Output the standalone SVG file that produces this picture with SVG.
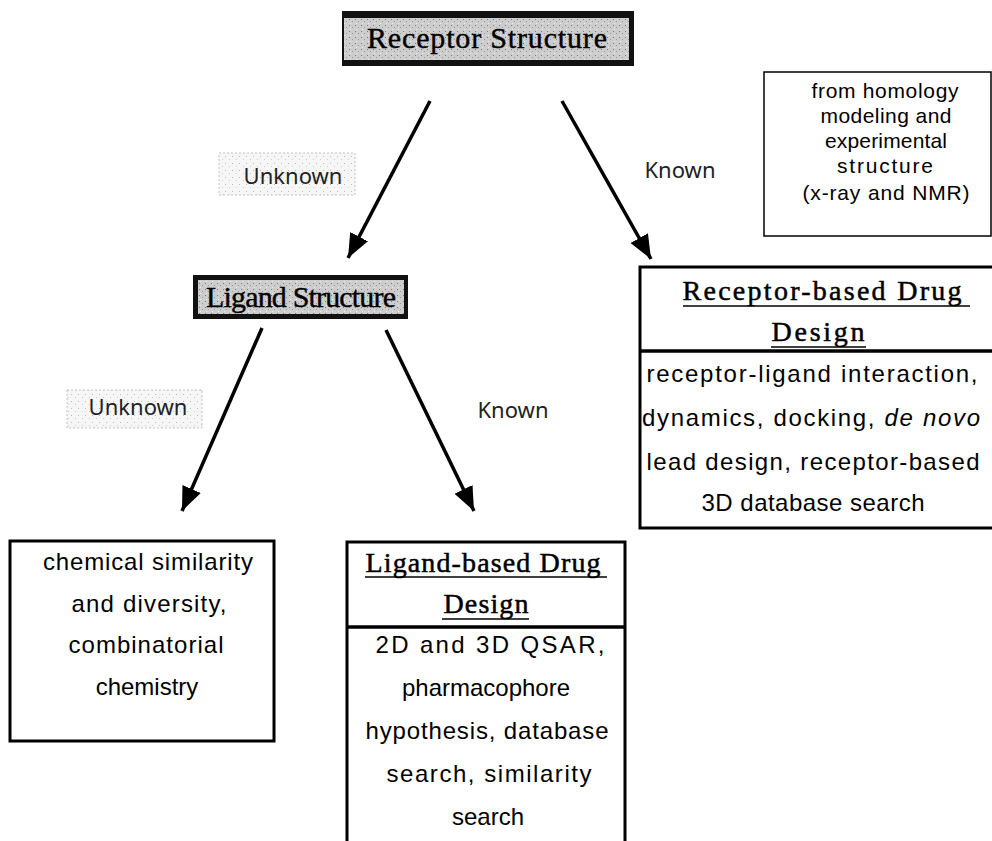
<svg xmlns="http://www.w3.org/2000/svg" width="992" height="841" viewBox="0 0 992 841">
  <defs>
    <pattern id="speck" width="6" height="6" patternUnits="userSpaceOnUse">
      <rect width="6" height="6" fill="#cdcdcd"/>
      <rect x="1" y="1" width="1" height="1" fill="#7a7a7a"/>
      <rect x="4" y="3" width="1" height="1" fill="#999"/>
      <rect x="2" y="5" width="1" height="1" fill="#eee"/>
    </pattern>
    <pattern id="speck2" width="7" height="7" patternUnits="userSpaceOnUse">
      <rect width="7" height="7" fill="#f6f6f6"/>
      <rect x="1" y="2" width="1" height="1" fill="#bbb"/>
      <rect x="5" y="5" width="1" height="1" fill="#ccc"/>
    </pattern>
    <style>
      .frame{fill:#111}
      .inner{fill:url(#speck)}
      .box{fill:#fff;stroke:#000;stroke-width:3}
      .note{fill:#fff;stroke:#000;stroke-width:1.5}
      .lbl{fill:url(#speck2);stroke:#c4c4c4;stroke-width:1;stroke-dasharray:2 2}
      .ttl{font-family:"Liberation Serif",serif;font-size:30px;fill:#000;text-anchor:middle;stroke:#000;stroke-width:0.4}
      .hd{font-family:"Liberation Serif",serif;font-size:28px;fill:#000;text-anchor:middle;stroke:#000;stroke-width:0.5}
      .ul{stroke:#000;stroke-width:1.6}
      .tx{font-family:"Liberation Sans",sans-serif;font-size:24px;fill:#000;text-anchor:middle}
      .nt{font-family:"Liberation Sans",sans-serif;font-size:21px;fill:#000;text-anchor:middle}
      .kw{font-family:"Noto Sans",sans-serif;font-size:22px;fill:#222;text-anchor:middle}
      .arr{stroke:#000;stroke-width:3.5;fill:none}
    </style>
    <marker id="ah" markerUnits="userSpaceOnUse" markerWidth="26" markerHeight="22" refX="24" refY="10" orient="auto">
      <path d="M0,0 L24,10 L0,20 Z" fill="#000"/>
    </marker>
  </defs>
  <rect width="992" height="841" fill="#fff"/>

  <g id="receptor-structure">
    <rect class="frame" x="342" y="11" width="292" height="55"/>
    <rect class="inner" x="344" y="18" width="285" height="42"/>
    <text class="ttl" x="487" y="48" textLength="240">Receptor Structure</text>
  </g>

  <g id="ligand-structure">
    <rect class="frame" x="193" y="275" width="215" height="44"/>
    <rect class="inner" x="198" y="280" width="206" height="34"/>
    <text class="ttl" x="301" y="307" font-size="28" textLength="190">Ligand Structure</text>
  </g>

  <g id="note">
    <rect class="note" x="764" y="72" width="227" height="164"/>
    <text class="nt" x="885" y="98" textLength="147">from homology</text>
    <text class="nt" x="886" y="123" textLength="131">modeling and</text>
    <text class="nt" x="886" y="148" textLength="122">experimental</text>
    <text class="nt" x="885" y="173" textLength="96">structure</text>
    <text class="nt" x="886" y="200" textLength="167">(x-ray and NMR)</text>
  </g>

  <g id="receptor-based">
    <rect class="box" x="640" y="267" width="356" height="261"/>
    <line x1="640" y1="351" x2="996" y2="351" stroke="#000" stroke-width="3.5"/>
    <text class="hd" x="822" y="300" textLength="279">Receptor-based Drug</text>
    <line class="ul" x1="683" y1="306" x2="970" y2="306"/>
    <text class="hd" x="818" y="341" textLength="93">Design</text>
    <line class="ul" x1="771" y1="347" x2="866" y2="347"/>
    <text class="tx" x="812" y="382" textLength="331">receptor-ligand interaction,</text>
    <text class="tx" x="811" y="426" textLength="338">dynamics, docking, <tspan font-style="italic">de novo</tspan></text>
    <text class="tx" x="813" y="470" textLength="333">lead design, receptor-based</text>
    <text class="tx" x="813" y="511" textLength="223">3D database search</text>
  </g>

  <g id="chemical">
    <rect class="box" x="10" y="541" width="264" height="200"/>
    <text class="tx" x="148" y="570" textLength="210">chemical similarity</text>
    <text class="tx" x="149" y="612" textLength="155">and diversity,</text>
    <text class="tx" x="146" y="653" textLength="155">combinatorial</text>
    <text class="tx" x="147" y="695">chemistry</text>
  </g>

  <g id="ligand-based">
    <rect class="box" x="347" y="542" width="278" height="310"/>
    <line x1="347" y1="627" x2="625" y2="627" stroke="#000" stroke-width="3.5"/>
    <text class="hd" x="483" y="572" textLength="235">Ligand-based Drug</text>
    <line class="ul" x1="365" y1="577" x2="607" y2="577"/>
    <text class="hd" x="486" y="613" textLength="85">Design</text>
    <line class="ul" x1="442" y1="619" x2="529" y2="619"/>
    <text class="tx" x="490" y="653" textLength="229">2D and 3D QSAR,</text>
    <text class="tx" x="486" y="696" textLength="168">pharmacophore</text>
    <text class="tx" x="487" y="739" textLength="243">hypothesis, database</text>
    <text class="tx" x="489" y="782" textLength="205">search, similarity</text>
    <text class="tx" x="488" y="825">search</text>
  </g>

  <g id="unknown-1">
    <rect class="lbl" x="219" y="153" width="136" height="42"/>
    <text class="kw" x="293" y="184">Unknown</text>
  </g>
  <g id="known-1">
    <text class="kw" x="680" y="178">Known</text>
  </g>
  <g id="unknown-2">
    <rect class="lbl" x="67" y="390" width="135" height="38"/>
    <text class="kw" x="138" y="415">Unknown</text>
  </g>
  <g id="known-2">
    <text class="kw" x="513" y="418">Known</text>
  </g>

  <g id="connectors">
    <line class="arr" x1="430" y1="101" x2="348" y2="258" marker-end="url(#ah)"/>
    <line class="arr" x1="562" y1="101" x2="651" y2="259" marker-end="url(#ah)"/>
    <line class="arr" x1="262" y1="328" x2="182" y2="511" marker-end="url(#ah)"/>
    <line class="arr" x1="386" y1="330" x2="474" y2="511" marker-end="url(#ah)"/>
  </g>
</svg>
